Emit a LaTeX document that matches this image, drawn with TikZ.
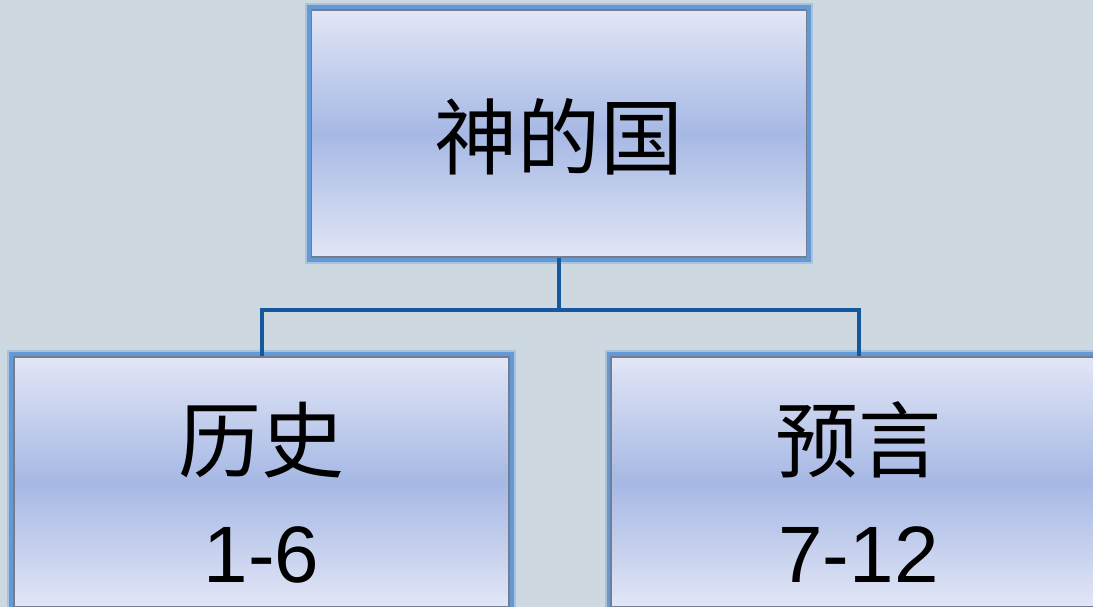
\documentclass[tikz,border=0pt]{standalone}
\usepackage{fontspec}
\setmainfont{Liberation Sans}
\newfontfamily\cjk{Noto Sans CJK SC}
\definecolor{bgc}{RGB}{205,216,225}
\definecolor{boxlight}{RGB}{226,230,246}
\definecolor{boxmid}{RGB}{166,184,228}
\definecolor{glowc}{RGB}{88,146,214}
\definecolor{edgec}{RGB}{115,125,142}
\definecolor{connc}{RGB}{22,88,158}
\tikzset{
  orgbox/.style={rectangle, inner sep=0pt, minimum width=495bp, minimum height=247bp,
    top color=boxlight, bottom color=boxlight, middle color=boxmid,
    draw=edgec, line width=1.2bp,
    preaction={draw=glowc, line width=13bp, draw opacity=.3},
    preaction={draw=glowc, line width=9bp, draw opacity=.85}},
  conn/.style={draw=connc, line width=4bp},
  bigtext/.style={inner sep=0pt, font=\fontsize{80bp}{96bp}\selectfont},
  cjktext/.style={inner sep=0pt, font=\fontsize{83bp}{96bp}\selectfont\cjk}
}
\begin{document}
\begin{tikzpicture}[x=1bp,y=-1bp]
\fill[bgc] (0,0) rectangle (1093,607);
\useasboundingbox (0,0) rectangle (1093,607);
\clip (0,0) rectangle (1093,607);
\node[orgbox] (top) at (559,133.5) {};
\node[orgbox, minimum height=250bp] (hist) at (261.5,482) {};
\node[orgbox, minimum height=250bp] (proph) at (858.5,482) {};
\draw[conn] (top.south) -- ++(0,52) -| (hist.north);
\draw[conn] (top.south) ++(0,52) -| (proph.north);
\node[cjktext] (t1) at (559,137) {神的国};
\node[cjktext] (t2) at (261.5,440) {历史};
\node[bigtext] (t3) at (261.5,555) {1-6};
\node[cjktext] (t4) at (858.5,440) {预言};
\node[bigtext] (t5) at (858.5,555) {7-12};
\end{tikzpicture}
\end{document}
